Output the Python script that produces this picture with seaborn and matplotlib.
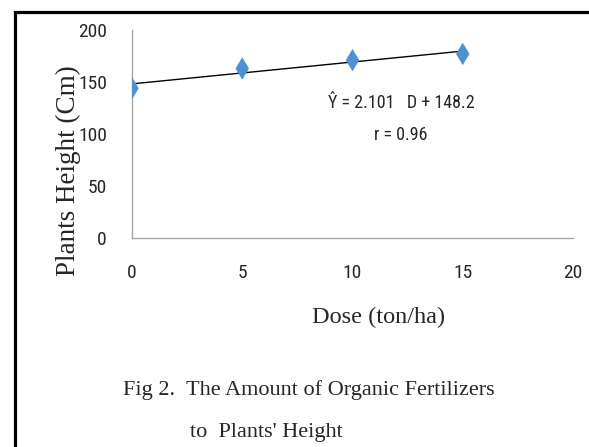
import matplotlib
matplotlib.use("Agg")
import matplotlib.pyplot as plt
import seaborn as sns
import pandas as pd
from matplotlib.patches import Rectangle

# data
dose = [0, 5, 10, 15]
height = [144, 163, 171, 177]
slope = 2.101
intercept = 148.2
x_ticks = [0, 5, 10, 15, 20]
y_ticks = [0, 50, 100, 150, 200]

df = pd.DataFrame({"dose": dose, "height": height})
trend = pd.DataFrame({"dose": [dose[0], dose[-1]]})
trend["height"] = intercept + slope * trend["dose"]

sns.set_style("white")
narrow = ["Roboto Condensed", "DejaVu Sans Condensed", "Liberation Sans Narrow", "DejaVu Sans"]
serif = ["Liberation Serif", "DejaVu Serif"]

W, H = 589, 447
fig = plt.figure(figsize=(W / 100, H / 100), dpi=100)
ax = fig.add_axes([132 / W, 1 - 238 / H, 441 / W, 208 / H])

sns.lineplot(data=trend, x="dose", y="height", color="black", linewidth=1.0, ax=ax)
sns.scatterplot(data=df, x="dose", y="height", marker="d", s=130, color="#4F90D2",
                edgecolor="none", ax=ax, zorder=3)

ax.set_xlim(0, 20)
ax.set_ylim(0, 200)
ax.set_xticks(x_ticks)
ax.set_yticks(y_ticks)
ax.set_xticklabels([str(t) for t in x_ticks], family=narrow, fontsize=14, stretch="condensed")
ax.set_yticklabels([str(t) for t in y_ticks], family=narrow, fontsize=14, stretch="condensed")
ax.tick_params(axis="x", direction="out", length=8, width=1, color="#A6A6A6", pad=11)
ax.tick_params(axis="y", direction="out", length=5, width=1, color="#A6A6A6", pad=13)
for side in ["top", "right"]:
    ax.spines[side].set_visible(False)
for side in ["left", "bottom"]:
    ax.spines[side].set_color("#A6A6A6")
    ax.spines[side].set_linewidth(1)
ax.set_xlabel("")
ax.set_ylabel("")

ax.text(12.2, 130, "\u0176 = 2.101   D + 148.2", family=narrow, fontsize=13,
        stretch="condensed", ha="center", va="center")
ax.text(12.2, 99, "r = 0.96", family=narrow, fontsize=13, stretch="condensed",
        ha="center", va="center")

fig.text(68 / W, 1 - 171 / H, "Plants Height (Cm)", family=serif, fontsize=19.5,
         rotation=90, ha="center", va="center")
fig.text(312 / W, 1 - 323 / H, "Dose (ton/ha)", family=serif, fontsize=17.5,
         ha="left", va="baseline")
fig.text(123 / W, 1 - 395 / H, "Fig 2.  The Amount of Organic Fertilizers",
         family=serif, fontsize=16, ha="left", va="baseline")
fig.text(190 / W, 1 - 437 / H, "to  Plants' Height", family=serif, fontsize=16,
         ha="left", va="baseline")

# frame around the figure, cut at right and bottom
fig.patches.append(Rectangle((15 / W, -0.1), 1.2, 1 - 12 / H + 0.1,
                             transform=fig.transFigure, fill=False,
                             edgecolor="black", linewidth=2.3))

fig.savefig("out.png", dpi=100)
